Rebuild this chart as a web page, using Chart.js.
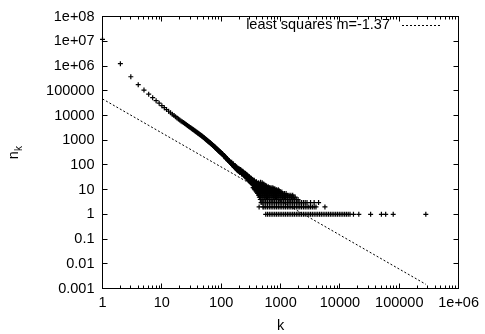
<!DOCTYPE html>
<html><head><meta charset="utf-8">
<script src="https://cdn.jsdelivr.net/npm/chart.js@4/dist/chart.umd.min.js"></script>
<style>html,body{margin:0;padding:0;background:#fff}canvas{display:block}</style>
</head><body>
<canvas id="c" width="485" height="334"></canvas>
<script>
// ---- axis ticks ----
const xTickValues = [1, 10, 100, 1000, 10000, 100000, 1000000];
const xTickLabels = ['1', '10', '100', '1000', '10000', '100000', '1e+06'];
const yTickValues = [0.001, 0.01, 0.1, 1, 10, 100, 1000, 10000, 100000, 1000000, 10000000, 100000000];
const yTickLabels = ['0.001', '0.01', '0.1', '1', '10', '100', '1000', '10000', '100000', '1e+06', '1e+07', '1e+08'];
const xMinorFactors = [2, 3, 4, 5, 6, 7, 8, 9];
const xTitle = 'k';
const yTitleMain = 'n';
const yTitleSub = 'k';
const legendLabel = 'least squares m=-1.37';

// ---- least squares line (end points) ----
const lsqK = [1, 280000];
const lsqN = [47000, 0.00148];

// ---- data: head of distribution ----
const headK = [1,2,3,4,5,6,7,8,9,10,11,12,13,14,15,16,17,18,19,20,21,22,23,24,25,26,27,28,29,30];
const headN = [12000000,1260000,372000,178000,107000,73000,53000,40000,31500,25100,20800,17500,14900,12900,11300,10000,8960,8040,7240,6600,6070,5610,5190,4830,4500,4210,3960,3720,3510,3300];

const midK = [31,32,33,34,35,36,37,38,39,40,41,42,43,44,45,46,47,48,49,50,51,52,53,54,55,56,57,58,59,60,61,62,63,64,65,66,67,68,69,70,71,72,73,74,75,76,77,78,79,80,81,82,83,84,85,86,87,88,89,90,91,92,93,94,95,96,97,98,99];
const midN = [3120,2940,2800,2640,2520,2390,2290,2170,2090,1980,1910,1820,1760,1680,1620,1550,1500,1440,1390,1325,1280,1225,1185,1135,1100,1055,1025,980,955,915,892,858,836,804,785,755,739,711,696,670,658,631,618,593,581,558,548,526,517,497,489,469,463,444,438,421,416,399,395,379,376,361,358,343,341,327,325,312,310];

const bandAK = [100,102,104,106,108,110,112,114,116,118,120,122,124,126,128,130,132,134,136,138,140,142,144,146,148,150,152,154,156,158,160,162,164,166,168,170,172,174,176,178,180,182,184,186,188,190,192,194,196,198,105,111,117,121,127,131,137,141,147,151,157,161,167,171,175,179,183,187,191,195,199];
const bandAN = [302,288,280,266,252,244,232,224,212,204,194,188,180,172,166,158,154,146,142,136,134,128,124,118,116,114,108,106,102,98,97,93,90,88,85,84,80,78,77,74,74,71,69,68,66,66,63,62,61,59,290,232,220,182,176,150,148,126,124,106,108,90,92,78,83,69,75,63,70,57,65];

const bandBK = [200,203,206,209,212,215,218,221,224,227,230,233,236,239,242,245,248,251,254,257,260,263,266,269,272,275,278,281,284,287,290,294,298,302,306,310,314,318,322,326,330,335,340,345,350,355,360,365,370,375,380,390,400,410,420,430,440,460,480,210,220,230,240,250,255,265,270,280,285,295,300,305,315,320,330,335,345,355,365,375,385,395,405,415,425,435,450,470,500,530,392,422,452,482,512,545,460,490,520,550,580,620,660];
const bandBN = [61,56,64,54,58,50,55,48,53,46,50,44,49,42,46,40,44,37,42,35,40,33,38,31,36,30,34,28,32,27,31,25,29,24,28,22,26,21,25,19,23,18,22,16,20,15,19,14,18,13,17,15,16,13,15,14,13,14,13,66,44,56,38,46,33,42,28,37,25,34,22,31,19,29,17,26,24,22,21,20,18,19,17,16,17,16,15,15,14,13,21,19,18,16,15,14,20,19,17,15,14,13,12];

// wider scatter around the band bend
const bandCK = [150,155,160,165,170,175,180,185,190,195,200,205,215,225,235,245,255,265,275,285,295,310,325,340,360,380];
const bandCN = [128,96,110,84,96,72,84,62,76,55,70,50,62,42,52,36,45,31,39,24,32,20,27,16,24,13];

// ---- low counts: k values observed at each small n ----
const rowN = [1,2,3,4,5,6,7,8,9,10,11,12];
const rowK1 = [562,602,646,692,742,796,853,915,981,1050,1130,1210,1300,1390,1490,1600,1710,1840,1970,2110,2260,2430,2600,2790,2990,3200,3430,3680,3950,4230,4540,4860,5210,5590,5990,6420,6890,7380,7910,8480,9090,9750,10450,11200,12000,12870,13800,14790,16900,20800,32900,50000,59000,79000,280000];
const rowK2 = [435,505,524,562,602,646,692,742,796,853,915,981,1050,1130,1210,1300,1390,1490,1600,1710,1840,1970,2110,2260,2430,2600,2790,2990,3200,3430,3680,3950,5590];
const rowK3 = [470,489,524,562,602,646,692,742,796,853,915,981,1050,1130,1210,1300,1390,1490,1600,1710,1840,1970,2110,2260,2430,2600,2790,3200,3680,4370];
const rowK4 = [456,489,524,562,602,646,692,742,796,853,915,981,1050,1130,1210,1300,1390,1490,1600,1710,1840,1970];
const rowK5 = [440,470,505,540,580,620,665,715,765,820,880,945,1010,1080,1160,1240,1330,1430,1530,1640,1760];
const rowK6 = [425,456,489,524,562,602,646,692,742,796,853,915,981,1050,1130,1210,1300,1390,1490,1600];
const rowK7 = [410,440,470,505,540,580,620,665,715,765,820,880,945,1010,1080,1160,1240];
const rowK8 = [397,425,456,489,524,562,602,646,692,742,796,853,915,981,1050];
const rowK9 = [385,410,440,470,505,540,580,620,665,715,765,820,880,945];
const rowK10 = [370,397,425,456,489,524,562,602,646,692,742,796,853,915];
const rowK11 = [360,385,410,440,470,505,540,580,620,665,715,765,800];
const rowK12 = [345,370,397,425,456,489,524,562,602,646,692,740];
const rowKs = [rowK1,rowK2,rowK3,rowK4,rowK5,rowK6,rowK7,rowK8,rowK9,rowK10,rowK11,rowK12];

// ---- build points ----
const pts = [];
function addPairs(ks, ns){ for (let i=0;i<ks.length;i++) pts.push({x:ks[i], y:ns[i]}); }
addPairs(headK, headN);
addPairs(midK, midN);
addPairs(bandAK, bandAN);
addPairs(bandBK, bandBN);
addPairs(bandCK, bandCN);
rowKs.forEach((ks, j) => ks.forEach(k => pts.push({x:k, y:rowN[j]})));
const lsqPts = lsqK.map((k,i)=>({x:k, y:lsqN[i]}));

const FONT = '"Liberation Sans", Arial, Helvetica, sans-serif';
const FS = 14.5;

const framePlugin = {
  id: 'frame',
  afterDraw(chart) {
    const ctx = chart.ctx, a = chart.chartArea;
    const xs = chart.scales.x, ys = chart.scales.y;
    const h = v => Math.round(v - 0.5) + 0.5;
    ctx.save();
    ctx.strokeStyle = '#000'; ctx.lineWidth = 1;
    ctx.strokeRect(h(a.left), h(a.top), h(a.right) - h(a.left), h(a.bottom) - h(a.top));
    ctx.beginPath();
    const L = 5, Lm = 3;
    xTickValues.forEach((v, i) => {
      const px = h(xs.getPixelForValue(v));
      ctx.moveTo(px, h(a.bottom)); ctx.lineTo(px, h(a.bottom) - L);
      ctx.moveTo(px, h(a.top)); ctx.lineTo(px, h(a.top) + L);
      if (i < xTickValues.length - 1) {
        xMinorFactors.forEach(f => {
          const pm = h(xs.getPixelForValue(v * f));
          ctx.moveTo(pm, h(a.bottom)); ctx.lineTo(pm, h(a.bottom) - Lm);
          ctx.moveTo(pm, h(a.top)); ctx.lineTo(pm, h(a.top) + Lm);
        });
      }
    });
    yTickValues.forEach(v => {
      const py = h(ys.getPixelForValue(v));
      ctx.moveTo(h(a.left), py); ctx.lineTo(h(a.left) + L, py);
      ctx.moveTo(h(a.right), py); ctx.lineTo(h(a.right) - L, py);
    });
    ctx.stroke();

    // legend
    ctx.fillStyle = '#000';
    ctx.font = FS + 'px ' + FONT;
    ctx.textAlign = 'right'; ctx.textBaseline = 'middle';
    ctx.fillText(legendLabel, 390, 25);
    ctx.beginPath();
    ctx.setLineDash([2, 2]);
    ctx.moveTo(402, 25.5); ctx.lineTo(442, 25.5);
    ctx.stroke();
    ctx.setLineDash([]);

    // axis titles
    ctx.textAlign = 'center';
    ctx.fillText(xTitle, (a.left + a.right) / 2, 326);
    ctx.translate(16, (a.top + a.bottom) / 2);
    ctx.rotate(-Math.PI / 2);
    ctx.textAlign = 'left';
    const wn = ctx.measureText(yTitleMain).width;
    ctx.font = '10px ' + FONT;
    const wk = ctx.measureText(yTitleSub).width;
    const x0 = -(wn + wk) / 2;
    ctx.font = FS + 'px ' + FONT;
    ctx.fillText(yTitleMain, x0, -2);
    ctx.font = '10px ' + FONT;
    ctx.fillText(yTitleSub, x0 + wn, 3);
    ctx.restore();
  }
};

new Chart(document.getElementById('c'), {
  type: 'scatter',
  data: {
    datasets: [
      { label: 'data', data: pts, pointStyle: 'cross', pointRadius: 2.5, pointBorderWidth: 1.2,
        borderColor: '#000', backgroundColor: '#000', showLine: false, clip: false },
      { label: legendLabel, data: lsqPts, showLine: true, pointRadius: 0, borderColor: '#000',
        borderWidth: 1, borderDash: [2, 2], fill: false }
    ]
  },
  options: {
    responsive: false, animation: false, devicePixelRatio: 1, events: [],
    layout: { padding: { left: 0, right: 23.5, top: 12.5, bottom: 0 } },
    plugins: { legend: { display: false }, tooltip: { enabled: false } },
    scales: {
      x: {
        type: 'logarithmic', min: 1, max: 1000000,
        grid: { display: false, drawTicks: false }, border: { display: false },
        afterBuildTicks: s => { s.ticks = xTickValues.map(v => ({ value: v })); },
        afterFit: s => { s.height = 45.5; },
        ticks: { autoSkip: false, maxRotation: 0, padding: 6, color: '#000',
          font: { family: FONT, size: FS }, callback: (v, i) => xTickLabels[i] }
      },
      y: {
        type: 'logarithmic', min: 0.001, max: 100000000,
        grid: { display: false, drawTicks: false }, border: { display: false },
        afterBuildTicks: s => { s.ticks = yTickValues.map(v => ({ value: v })); },
        afterFit: s => { s.width = 102.5; },
        ticks: { autoSkip: false, padding: 8, color: '#000',
          font: { family: FONT, size: FS }, callback: (v, i) => yTickLabels[i] }
      }
    }
  },
  plugins: [framePlugin]
});
</script>
</body></html>
